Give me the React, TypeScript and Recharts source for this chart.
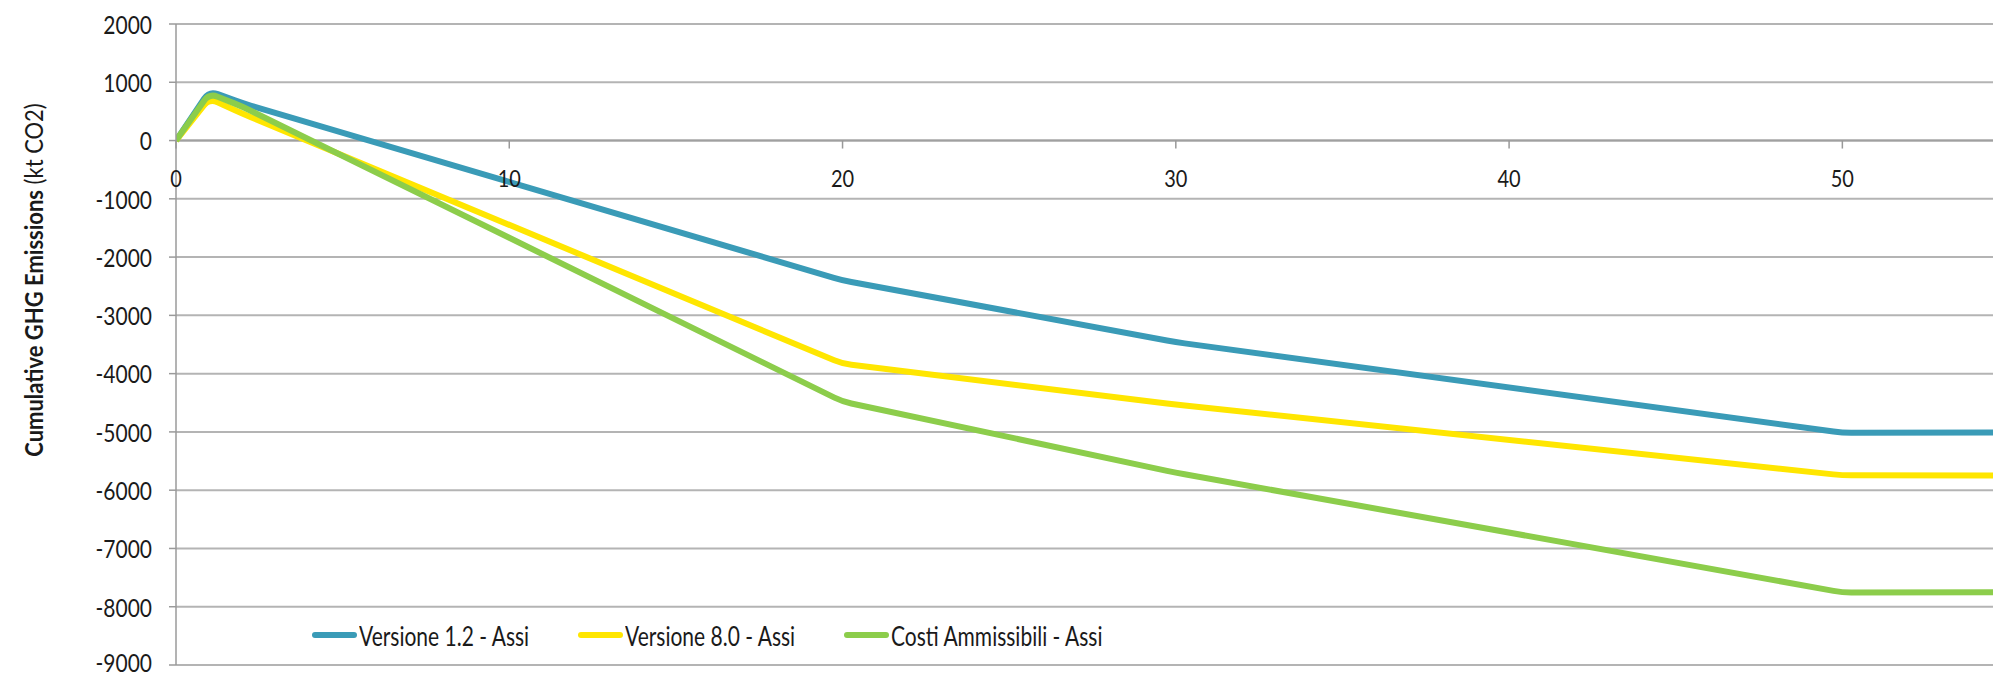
import React from "react";
import { LineChart, Line, XAxis, YAxis, CartesianGrid, Legend, ReferenceLine, ReferenceDot } from "recharts";

// years since start
const years = [0, 1, 2, 20, 30, 50, 60];
const versione12 = [0, 850, 640, -2400, -3460, -5015, -5005];
const versione80 = [0, 720, 460, -3830, -4530, -5745, -5750];
const costiAmmissibili = [0, 810, 580, -4480, -5700, -7755, -7745];

const xTicks = [0, 10, 20, 30, 40, 50];
const yTicks = [2000, 1000, 0, -1000, -2000, -3000, -4000, -5000, -6000, -7000, -8000, -9000];

const SERIES = [
  { key: "v12", name: "Versione 1.2 - Assi", color: "#3A9BB7" },
  { key: "v80", name: "Versione 8.0 - Assi", color: "#FFE600" },
  { key: "costi", name: "Costi Ammissibili - Assi", color: "#8CCD4B" },
];

const data = years.map((x, i) => ({
  x,
  v12: versione12[i],
  v80: versione80[i],
  costi: costiAmmissibili[i],
}));

const FONT = "Lato, 'Open Sans', sans-serif";
const TEXT = "#1a1a1a";
const STRETCH = 1.2; // text in the source is a bit taller than wide

// straight segments with slightly rounded joints, like the smoothed excel lines
function roundedLinear(context: any) {
  let pts: [number, number][] = [];
  const R = 9;
  return {
    areaStart() {},
    areaEnd() {},
    lineStart() {
      pts = [];
    },
    point(x: number, y: number) {
      pts.push([+x, +y]);
    },
    lineEnd() {
      if (!pts.length) return;
      context.moveTo(pts[0][0], pts[0][1]);
      for (let i = 1; i < pts.length - 1; i++) {
        const [px, py] = pts[i - 1];
        const [cx, cy] = pts[i];
        const [nx, ny] = pts[i + 1];
        const d1 = Math.hypot(cx - px, cy - py);
        const d2 = Math.hypot(nx - cx, ny - cy);
        const r = Math.min(R, d1 * 0.45, d2 * 0.45);
        context.lineTo(cx - ((cx - px) / d1) * r, cy - ((cy - py) / d1) * r);
        context.quadraticCurveTo(cx, cy, cx + ((nx - cx) / d2) * r, cy + ((ny - cy) / d2) * r);
      }
      const last = pts[pts.length - 1];
      if (pts.length > 1) context.lineTo(last[0], last[1]);
    },
  };
}

function renderLegend() {
  return (
    <div style={{ display: "flex", alignItems: "center", fontFamily: FONT, fontSize: 21, color: TEXT }}>
      {SERIES.map((s) => (
        <div key={s.key} style={{ display: "flex", alignItems: "center", width: 266, whiteSpace: "nowrap" }}>
          <span style={{ display: "inline-block", width: 45, height: 6, borderRadius: 3, background: s.color, marginRight: 2 }} />
          <span style={{ display: "inline-block", transform: `scaleY(${STRETCH + 0.1})` }}>{s.name}</span>
        </div>
      ))}
    </div>
  );
}

function YTick(props: any) {
  const { x, y, payload, index } = props;
  // lowest label sits on the bottom edge; lift it a little so it stays whole
  const lift = index === yTicks.length - 1 ? -3 : 0;
  return (
    <text
      transform={`translate(${x},${y + lift}) scale(1,${STRETCH})`}
      textAnchor="end"
      dominantBaseline="central"
      fontFamily={FONT}
      fontSize={21}
      fill={TEXT}
    >
      {payload.value}
    </text>
  );
}

function ZeroTick(props: any) {
  const { cx, cy, label } = props;
  return (
    <g>
      <line x1={cx} y1={cy} x2={cx} y2={cy + 8} stroke="#999" strokeWidth={1.5} />
      <text
        transform={`translate(${cx},${cy + 37}) scale(1,${STRETCH})`}
        textAnchor="middle"
        dominantBaseline="central"
        fontFamily={FONT}
        fontSize={20}
        fill={TEXT}
      >
        {label}
      </text>
    </g>
  );
}

export default function App() {
  return (
    <div style={{ position: "relative", width: 1993, height: 676, background: "#fff", overflow: "hidden" }}>
      <style>{"body{margin:0;overflow:hidden}"}</style>
      <LineChart width={1993} height={676} data={data} margin={{ top: 24, right: 0, bottom: 11, left: 0 }}>
        <CartesianGrid vertical={false} stroke="#B4B4B4" strokeWidth={2} />
        <XAxis dataKey="x" type="number" domain={[0, 54.52]} allowDataOverflow hide />
        <YAxis
          type="number"
          domain={[-9000, 2000]}
          ticks={yTicks}
          interval={0}
          width={176}
          tickSize={7}
          tickMargin={17}
          axisLine={{ stroke: "#9A9A9A", strokeWidth: 1.5 }}
          tickLine={{ stroke: "#9A9A9A", strokeWidth: 1.5 }}
          tick={<YTick />}
        />
        <ReferenceLine y={0} stroke="#A0A0A0" strokeWidth={2} />
        {xTicks.map((t) => (
          <ReferenceDot key={t} x={t} y={0} r={0} ifOverflow="visible" shape={(p: any) => <ZeroTick {...p} label={t} />} />
        ))}
        {SERIES.map((s) => (
          <Line
            key={s.key}
            dataKey={s.key}
            name={s.name}
            type={roundedLinear as any}
            stroke={s.color}
            strokeWidth={6}
            strokeLinejoin="round"
            dot={false}
            isAnimationActive={false}
          />
        ))}
        <Legend verticalAlign="middle" align="center" wrapperStyle={{ left: 312, top: 622, width: 900, height: 28 }} content={renderLegend} />
      </LineChart>
      <svg style={{ position: "absolute", left: 0, top: 0 }} width={70} height={676}>
        <text
          transform={`translate(33,280) rotate(-90) scale(1,1.15)`}
          textAnchor="middle"
          dominantBaseline="central"
          fontFamily={FONT}
          fontSize={22}
          fill={TEXT}
        >
          <tspan fontWeight={700}>Cumulative GHG Emissions</tspan>
          <tspan> (kt CO2)</tspan>
        </text>
      </svg>
    </div>
  );
}
